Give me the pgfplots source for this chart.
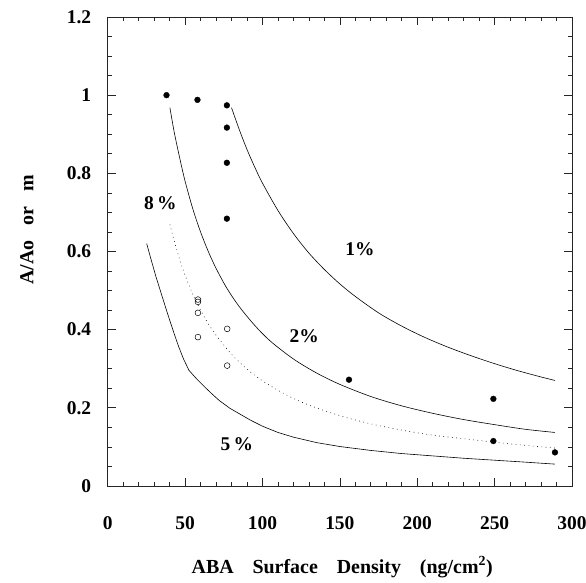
\documentclass[border=0pt]{standalone}
\usepackage{fontspec}
\setmainfont{Liberation Serif}
\usepackage{pgfplots}
\pgfplotsset{compat=1.18}
\begin{document}
\begin{tikzpicture}
\begin{axis}[
  scale only axis,
  width=464.3bp, height=469bp,
  xmin=0, xmax=300, ymin=0, ymax=1.2,
  xtick={0,50,100,150,200,250,300},
  ytick={0,0.2,0.4,0.6,0.8,1,1.2},
  minor x tick num=4,
  minor y tick num=3,
  tick align=inside,
  major tick length=8bp,
  minor tick length=4.5bp,
  axis line style={line width=0.9pt, black!85},
  every tick/.style={black!85, line width=0.7pt},
  /pgf/number format/assume math mode=true,
  tick label style={font=\fontsize{19.5}{21}\selectfont\bfseries},
  yticklabel style={xshift=-13bp},
  xticklabel style={yshift=-27bp},
  xlabel={ABA\hspace{0.95em}Surface\hspace{0.95em}Density\hspace{0.95em}(ng/cm\textsuperscript{2})},
  ylabel={A/Ao\hspace{0.75em}or\hspace{0.75em}m},
  xlabel style={font=\fontsize{20}{22}\selectfont\bfseries, at={(axis description cs:0.505,-0.173)}, anchor=center},
  ylabel style={font=\fontsize{20}{22}\selectfont\bfseries, at={(axis description cs:-0.174,0.546)}, anchor=center, rotate=0},
]
% 1% curve
\addplot[black, line width=0.6pt, smooth] coordinates {
 (80,0.968) (85,0.912) (90,0.861) (95,0.816) (100,0.775) (110,0.705)
 (120,0.646) (130,0.596) (140,0.554) (150,0.517) (160,0.485) (175,0.443)
 (190,0.409) (205,0.380) (220,0.355) (235,0.333) (250,0.313) (265,0.295)
 (280,0.279) (289,0.270)};
% 2% curve
\addplot[black, line width=0.6pt, smooth] coordinates {
 (40.2,0.968) (43,0.905) (46.6,0.838) (50,0.780) (55,0.709) (60,0.650)
 (65,0.600) (70,0.557) (77,0.506) (85,0.459) (95,0.411) (105,0.371)
 (120,0.325) (135,0.289) (150,0.260) (170,0.229) (190,0.205) (210,0.186)
 (230,0.170) (250,0.157) (270,0.145) (289,0.137)};
% 8% curve (dotted)
\addplot[black, line width=0.6pt, smooth, dash pattern=on 0.7pt off 3.6pt] coordinates {
 (40.2,0.669) (43,0.627) (46.6,0.578) (50,0.539) (55,0.490) (60,0.450)
 (65,0.415) (70,0.386) (80,0.337) (90,0.299) (100,0.269) (115,0.234)
 (130,0.207) (150,0.180) (170,0.159) (190,0.143) (210,0.130) (230,0.121)
 (250,0.112) (270,0.104) (289,0.097)};
% 5% curve
\addplot[black, line width=0.6pt] coordinates {
 (25.2,0.620) (28,0.580) (31,0.538) (34,0.500) (37,0.462) (40,0.425)
 (43,0.389) (46,0.355) (49,0.325) (52.5,0.296) (57,0.276) (62,0.256)
 (67,0.237) (72,0.219) (78.9,0.199) (85,0.185) (92,0.169) (100,0.153)
 (110,0.137) (120,0.125) (135,0.111) (150,0.101) (170,0.091) (190,0.083)
 (210,0.077) (230,0.071) (250,0.066) (270,0.061) (289,0.056)};
% filled points
\addplot[only marks, mark=*, mark size=2.9bp, black] coordinates {
 (38,1.0) (58,0.988) (77,0.974) (77,0.917) (77,0.827) (77,0.684)
 (155.9,0.272) (249.2,0.223) (249.2,0.115) (289,0.086)};
% open points
\addplot[only marks, mark=o, mark size=2.9bp, black, mark options={line width=0.5pt}] coordinates {
 (58.3,0.477) (58.3,0.471) (58.3,0.443) (58.3,0.381) (77.2,0.402) (77.2,0.308)};
\node[font=\fontsize{19.5}{21}\selectfont\bfseries] at (axis cs:163,0.605) {1\%};
\node[font=\fontsize{19.5}{21}\selectfont\bfseries] at (axis cs:127,0.383) {2\%};
\node[font=\fontsize{19.5}{21}\selectfont\bfseries] at (axis cs:34,0.723) {8\,\%};
\node[font=\fontsize{19.5}{21}\selectfont\bfseries] at (axis cs:83.5,0.108) {5\,\%};
\end{axis}
\pgfresetboundingbox
\path[use as bounding box] (current axis.south west) ++(-107.7bp,-97bp) rectangle ++(586bp,583bp);
\end{tikzpicture}
\end{document}
